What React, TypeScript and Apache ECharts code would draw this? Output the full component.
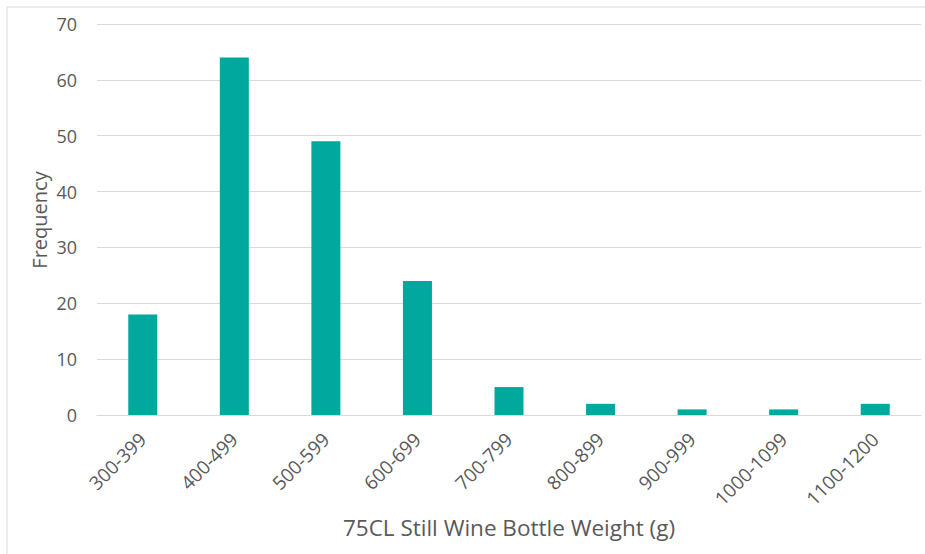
import React, { useEffect, useRef } from "react";
import * as echarts from "echarts";

const categories = ["300-399", "400-499", "500-599", "600-699", "700-799", "800-899", "900-999", "1000-1099", "1100-1200"];
const frequency = [18, 64, 49, 24, 5, 2, 1, 1, 2];
const xTitle = "75CL Still Wine Bottle Weight (g)";
const yTitle = "Frequency";

export default function App() {
  const ref = useRef<HTMLDivElement>(null);
  useEffect(() => {
    if (!ref.current) return;
    const chart = echarts.init(ref.current, null, { renderer: "svg" });
    const font = "'Open Sans', sans-serif";
    chart.setOption({
      animation: false,
      backgroundColor: "#ffffff",
      textStyle: { fontFamily: font },
      graphic: [
        {
          type: "rect",
          shape: { x: 7, y: 7, width: 930, height: 560 },
          style: { fill: "none", stroke: "#d9d9d9", lineWidth: 1 },
          silent: true,
        },
        {
          type: "text",
          x: 39,
          y: 220,
          rotation: Math.PI / 2,
          style: {
            text: yTitle,
            fill: "#595959",
            font: `20px ${font}`,
            align: "center",
            verticalAlign: "middle",
          },
        },
      ],
      grid: { left: 97, right: 4, top: 24, bottom: 139, containLabel: false },
      xAxis: {
        type: "category",
        data: categories,
        name: xTitle,
        nameLocation: "middle",
        nameGap: 100,
        nameTextStyle: { color: "#595959", fontSize: 22.5, fontFamily: font },
        axisLine: { show: true, lineStyle: { color: "#d9d9d9", width: 1 } },
        axisTick: { show: false },
        axisLabel: { rotate: 45, color: "#595959", fontSize: 19, margin: 21, fontFamily: font },
      },
      yAxis: {
        type: "value",
        min: 0,
        max: 70,
        interval: 10,
        axisLine: { show: false },
        axisTick: { show: false },
        axisLabel: { color: "#595959", fontSize: 18, margin: 20, fontFamily: font },
        splitLine: { lineStyle: { color: "#d9d9d9", width: 1 } },
      },
      series: [
        {
          type: "bar",
          data: frequency,
          barWidth: 29,
          itemStyle: { color: "#00A89D" },
        },
      ],
    });
    return () => chart.dispose();
  }, []);
  return <div ref={ref} style={{ position: "fixed", left: 0, top: 0, width: 925, height: 554 }} />;
}
